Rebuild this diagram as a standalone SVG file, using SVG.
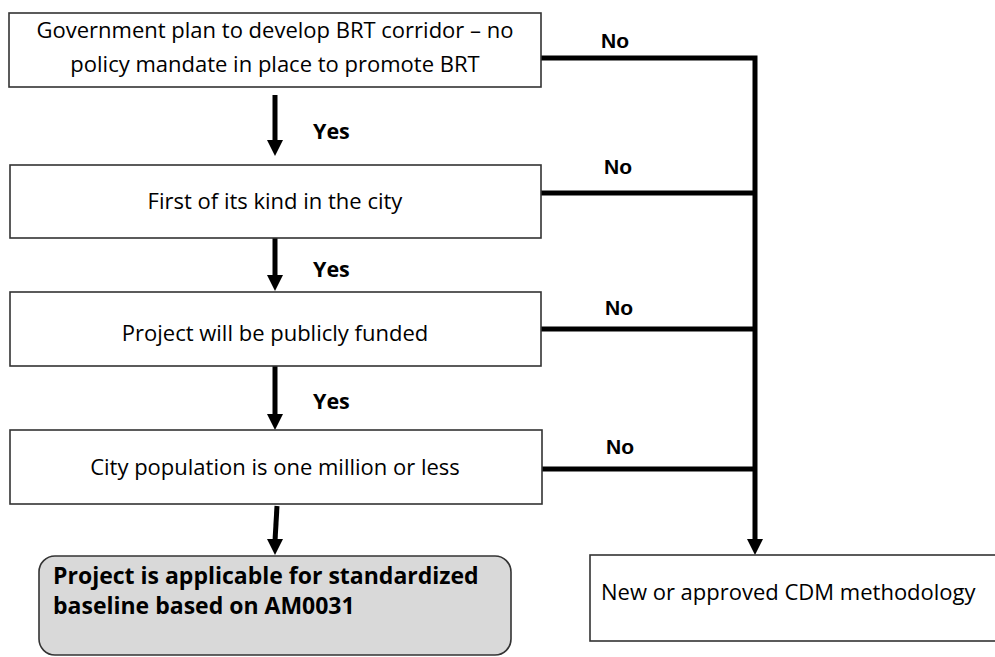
<svg xmlns="http://www.w3.org/2000/svg" width="995" height="657" viewBox="0 0 995 657">
<style>
.box{fill:#fff;stroke:#333;stroke-width:1.6}
.term{fill:#d9d9d9;stroke:#333;stroke-width:1.6}
.t{font-family:"Open Sans","Liberation Sans",sans-serif;font-size:22px;fill:#000}
.c{text-anchor:middle}
.b{font-family:"Open Sans","Liberation Sans",sans-serif;font-size:21.5px;font-weight:bold;fill:#000}
.bb{font-size:23px}
.lbl{font-family:"Liberation Sans",Arial,sans-serif;font-size:21px;font-weight:bold;fill:#000}
.ln{fill:none;stroke:#000;stroke-width:5}
.ah{fill:#000}
</style>
<g id="connectors">
<path class="ln" d="M541,58 H755 V541"/>
<path class="ln" d="M541,193 H755"/>
<path class="ln" d="M541,329 H755"/>
<path class="ln" d="M541,469 H755"/>
<path class="ah" d="M747,539 L763,539 L755,555 Z"/>
<line class="ln" x1="275" y1="95" x2="275" y2="142"/>
<path class="ah" d="M267,140 L283,140 L275,156 Z"/>
<line class="ln" x1="275" y1="229" x2="275" y2="277"/>
<path class="ah" d="M267,275 L283,275 L275,291 Z"/>
<line class="ln" x1="275" y1="366" x2="275" y2="416"/>
<path class="ah" d="M267,414 L283,414 L275,430 Z"/>
<line class="ln" x1="277" y1="506" x2="275" y2="541"/>
<path class="ah" d="M267,539 L283,539 L275,555 Z"/>
<text class="lbl" x="601" y="48">No</text>
<text class="lbl" x="604" y="174">No</text>
<text class="lbl" x="605" y="315">No</text>
<text class="lbl" x="606" y="454">No</text>
<text class="b" x="313" y="139">Yes</text>
<text class="b" x="313" y="277">Yes</text>
<text class="b" x="313" y="409">Yes</text>
</g>
<g id="n1">
<rect class="box" x="9" y="13" width="532" height="74"/>
<text class="t c" x="275" y="38">Government plan to develop BRT corridor – no</text>
<text class="t c" x="275" y="72">policy mandate in place to promote BRT</text>
</g>
<g id="n2">
<rect class="box" x="10" y="165" width="531" height="73"/>
<text class="t c" x="275" y="209">First of its kind in the city</text>
</g>
<g id="n3">
<rect class="box" x="10" y="292" width="531" height="74"/>
<text class="t c" x="275" y="341">Project will be publicly funded</text>
</g>
<g id="n4">
<rect class="box" x="10" y="430" width="532" height="74"/>
<text class="t c" x="275" y="475">City population is one million or less</text>
</g>
<g id="n5">
<rect class="term" x="39" y="556" width="472" height="99" rx="16"/>
<text class="b bb" x="53" y="584">Project is applicable for standardized</text>
<text class="b bb" x="53" y="614">baseline based on AM0031</text>
</g>
<g id="n6">
<rect class="box" x="590" y="555" width="412" height="86"/>
<text class="t" x="601" y="600">New or approved CDM methodology</text>
</g>
</svg>
